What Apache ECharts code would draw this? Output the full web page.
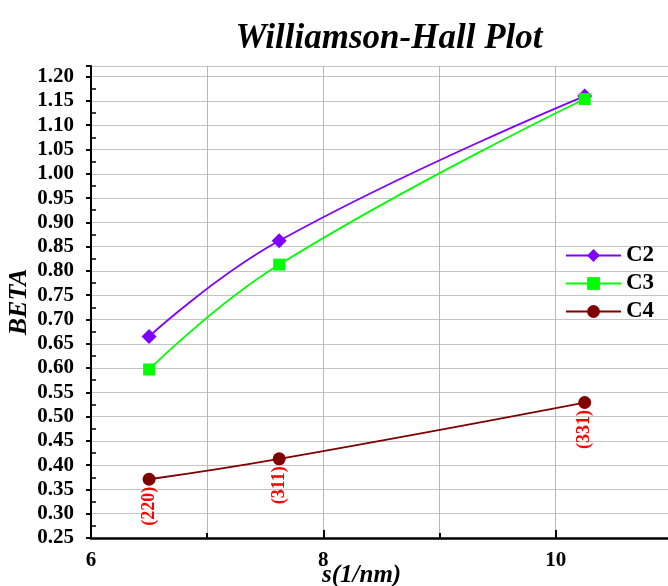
<!DOCTYPE html>
<html>
<head>
<meta charset="utf-8">
<script src="https://cdn.jsdelivr.net/npm/echarts@6/dist/echarts.min.js"></script>
<style>
html,body{margin:0;padding:0;background:#fff;}
#chart{width:668px;height:586px;}
</style>
</head>
<body>
<div id="chart"></div>
<script>
// data
const sValues = [6.5, 7.62, 10.25];
const c2 = [0.665, 0.862, 1.160];
const c3 = [0.597, 0.813, 1.154];
const c4 = [0.371, 0.413, 0.529];
const planes = ['(220)', '(311)', '(331)'];
const xTicks = [6, 8, 10];
const yMin = 0.25, yMax = 1.222, yStep = 0.05;

const FONT = '"Liberation Serif", "Times New Roman", serif';
const pairs = ys => sValues.map((x, i) => [x, ys[i]]);

const chart = echarts.init(document.getElementById('chart'), null, {renderer: 'canvas'});
chart.setOption({
  animation: false,
  backgroundColor: '#fff',
  title: {
    text: 'Williamson-Hall Plot',
    left: 384, top: 16, textAlign: 'center',
    textStyle: {fontFamily: FONT, fontSize: 35, fontWeight: 'bold', fontStyle: 'italic', color: '#000'}
  },
  grid: {left: 91, top: 66, height: 472, width: 697, containLabel: false, outerBoundsMode: 'none'},
  legend: {
    left: 560, top: 239, orient: 'vertical',
    itemWidth: 55, itemHeight: 16, itemGap: 5,
    textStyle: {fontFamily: FONT, fontSize: 23, fontWeight: 'bold', color: '#000'},
    data: ['C2', 'C3', 'C4']
  },
  xAxis: {
    type: 'value', min: 6, max: 12, interval: 2,
    axisLine: {show: true, onZero: false, lineStyle: {color: '#000', width: 2.5}},
    axisTick: {show: true, inside: true, length: 8, lineStyle: {color: '#000', width: 2}},
    minorTick: {show: true, splitNumber: 2, length: 5, lineStyle: {color: '#000', width: 2}},
    splitLine: {show: true, lineStyle: {color: '#b8b8b8', width: 1}},
    minorSplitLine: {show: true, lineStyle: {color: '#b8b8b8', width: 1}},
    axisLabel: {
      margin: 12, color: '#000', fontFamily: FONT, fontSize: 21, fontWeight: 'bold',
      formatter: v => (xTicks.indexOf(v) >= 0 ? String(v) : '')
    }
  },
  yAxis: {
    type: 'value', min: yMin, max: yMax, interval: yStep,
    name: 'BETA', nameLocation: 'middle', nameGap: 59, nameMoveOverlap: false,
    nameTextStyle: {fontFamily: FONT, fontSize: 26, fontWeight: 'bold', fontStyle: 'italic', color: '#000'},
    axisLine: {show: true, onZero: false, lineStyle: {color: '#000', width: 2}},
    axisTick: {show: true, inside: false, length: 5, lineStyle: {color: '#000', width: 2}},
    minorTick: {show: true, splitNumber: 2, length: -5, lineStyle: {color: '#000', width: 1.5}},
    splitLine: {show: true, lineStyle: {color: '#c4c4c4', width: 1}},
    axisLabel: {
      margin: 17, color: '#000', fontFamily: FONT, fontSize: 21, fontWeight: 'bold',
      formatter: v => {
        const k = Math.round(v / yStep);
        return (Math.abs(v - k * yStep) < 1e-6 && v <= 1.2000001) ? v.toFixed(2) : '';
      }
    }
  },
  graphic: [{
    type: 'text', left: 322, top: 563,
    style: {text: 's(1/nm)', font: 'italic bold 25px ' + FONT, fill: '#000'}
  }],
  series: [
    {
      name: 'C2', type: 'line', smooth: 0.45, data: pairs(c2),
      symbol: 'diamond', symbolSize: 15,
      lineStyle: {color: '#7f00ff', width: 1.8},
      itemStyle: {color: '#7f00ff'}
    },
    {
      name: 'C3', type: 'line', smooth: 0.45, data: pairs(c3),
      symbol: 'rect', symbolSize: 12,
      lineStyle: {color: '#00ff00', width: 1.8},
      itemStyle: {color: '#00ff00'}
    },
    {
      name: 'C4', type: 'line', smooth: 0.45, data: pairs(c4),
      symbol: 'circle', symbolSize: 13,
      lineStyle: {color: '#800000', width: 1.8},
      itemStyle: {color: '#800000'},
      label: {
        show: true, position: 'bottom', distance: 1, rotate: 90,
        align: 'right', verticalAlign: 'middle',
        color: '#ff0000', fontFamily: FONT, fontSize: 18, fontWeight: 'bold',
        formatter: p => planes[p.dataIndex]
      }
    }
  ]
});
</script>
</body>
</html>
